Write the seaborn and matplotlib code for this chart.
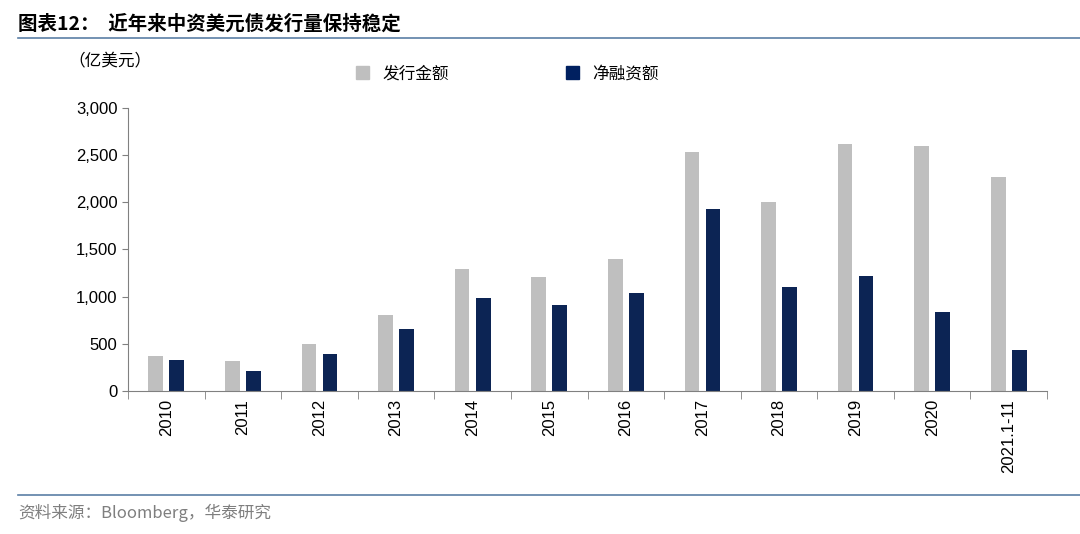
import numpy as np
import pandas as pd
import seaborn as sns
import matplotlib
matplotlib.use("Agg")
import matplotlib.pyplot as plt
from matplotlib.lines import Line2D
from matplotlib.patches import Patch

plt.rcParams["font.family"] = ["Noto Sans CJK SC"]

# data
years = ["2010", "2011", "2012", "2013", "2014", "2015", "2016", "2017",
         "2018", "2019", "2020", "2021.1-11"]
issue = [371, 318, 498, 806, 1294, 1209, 1400, 2534, 2004, 2619, 2598, 2269]
net = [329, 212, 392, 657, 986, 912, 1039, 1930, 1103, 1220, 838, 435]
series_names = ["发行金额", "净融资额"]
colors = ["#BFBFBF", "#002060"]

df = pd.DataFrame({
    "year": years * 2,
    "value": issue + net,
    "series": [series_names[0]] * len(years) + [series_names[1]] * len(years),
})

fig = plt.figure(figsize=(10.8, 5.34), dpi=100)
ax = fig.add_axes([0.1185, 0.268, 0.851, 0.53])
sns.barplot(data=df, x="year", y="value", hue="series", palette=colors,
            width=0.55, gap=0.3, ax=ax, legend=False)

ax.set_ylim(0, 3000)
ax.set_yticks(range(0, 3001, 500))
ax.set_yticklabels([f"{v:,}" for v in range(0, 3001, 500)], fontsize=12,
                   family="Liberation Sans")
ax.set_xlim(-0.5, len(years) - 0.5)
ax.set_xticks(range(len(years)))
ax.set_xticklabels(years, rotation=90, fontsize=12, family="Liberation Sans")
ax.tick_params(axis="x", length=0, pad=6)
ax.set_xticks(np.arange(-0.5, len(years)), minor=True)
ax.tick_params(axis="x", which="minor", length=6, color="#808080")
ax.tick_params(axis="y", length=4, color="#808080")
ax.set_xlabel("")
ax.set_ylabel("")
for s in ["top", "right"]:
    ax.spines[s].set_visible(False)
for s in ["left", "bottom"]:
    ax.spines[s].set_color("#808080")

handles = [Patch(color=c) for c in colors]
fig.legend(handles, series_names, loc="center", bbox_to_anchor=(0.47, 0.862),
           ncol=2, frameon=False, fontsize=12, handlelength=0.8, handleheight=0.8,
           columnspacing=7)

fig.text(0.063, 0.885, "（亿美元）", fontsize=12, ha="left", va="center")
fig.text(0.017, 0.955, "图表12：  近年来中资美元债发行量保持稳定", fontsize=14,
         fontweight="bold", ha="left", va="center")
fig.add_artist(Line2D([0.017, 1.0], [0.928, 0.928], color="#5B7FA6", lw=1.2))
fig.add_artist(Line2D([0.017, 1.0], [0.073, 0.073], color="#5B7FA6", lw=1.2))
fig.text(0.017, 0.04, "资料来源：Bloomberg，华泰研究", fontsize=12,
         color="#7F7F7F", ha="left", va="center")

fig.savefig("out.png", dpi=100)
